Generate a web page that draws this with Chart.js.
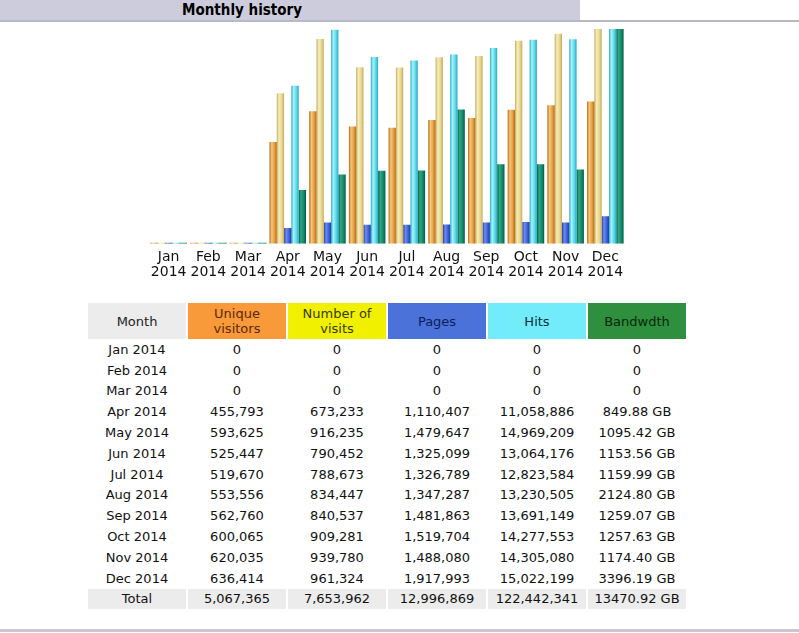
<!DOCTYPE html>
<html>
<head>
<meta charset="utf-8">
<script src="https://cdn.jsdelivr.net/npm/chart.js@4.4.1/dist/chart.umd.min.js"></script>
<style>
  body { margin: 0; width: 799px; height: 633px; background: #fff; position: relative; overflow: hidden; font-family: "DejaVu Sans", Verdana, sans-serif; }
  #titleBar { position: absolute; left: 0; top: 0; width: 580px; height: 20px; background: #ccccdc; }
  #titleBar span { position: absolute; left: 0; width: 484px; text-align: center; top: 1px; font: bold 15px "DejaVu Sans Condensed", "DejaVu Sans", sans-serif; color: #000; }
  #topLine { position: absolute; left: 0; top: 20px; width: 799px; height: 2px; background: #b8b8c8; }
  #bottomLine { position: absolute; left: 0; top: 629px; width: 799px; height: 3px; background: #c8c8d8; }
  #chartBox { position: absolute; left: 145px; top: 22px; width: 484px; height: 264px; }
  #history { position: absolute; left: 86px; top: 303px; border-collapse: separate; border-spacing: 2px 0; font-size: 13px; color: #111; }
  #history td, #history th { width: 98px; text-align: center; padding: 0; height: 20.8px; font-weight: normal; }
  #history th { height: 36px; line-height: 15px; }
  .hMonth { background: #ececec; color: #222; }
  .hU { background: #f8993a; color: #5a2a00; }
  .hV { background: #f0f000; color: #3a3a00; }
  .hP { background: #4a72d8; color: #0c1e5a; }
  .hH { background: #72ecfa; color: #0c3040; }
  .hK { background: #2e8f3f; color: #082808; }
  #history tr.total td { background: #ececec; }
</style>
</head>
<body>
<div id="titleBar"><span>Monthly history</span></div>
<div id="topLine"></div>
<div id="chartBox"><canvas id="monthChart"></canvas></div>
<table id="history">
  <thead>
    <tr>
      <th class="hMonth">Month</th>
      <th class="hU">Unique<br>visitors</th>
      <th class="hV">Number of<br>visits</th>
      <th class="hP">Pages</th>
      <th class="hH">Hits</th>
      <th class="hK">Bandwdth</th>
    </tr>
  </thead>
  <tbody></tbody>
</table>
<div id="bottomLine"></div>

<script>
const months = ["Jan", "Feb", "Mar", "Apr", "May", "Jun", "Jul", "Aug", "Sep", "Oct", "Nov", "Dec"];
const year = "2014";
const visitors = [0, 0, 0, 455793, 593625, 525447, 519670, 553556, 562760, 600065, 620035, 636414];
const visits = [0, 0, 0, 673233, 916235, 790452, 788673, 834447, 840537, 909281, 939780, 961324];
const pages = [0, 0, 0, 1110407, 1479647, 1325099, 1326789, 1347287, 1481863, 1519704, 1488080, 1917993];
const hits = [0, 0, 0, 11058886, 14969209, 13064176, 12823584, 13230505, 13691149, 14277553, 14305080, 15022199];
const bandwidthGB = [0, 0, 0, 849.88, 1095.42, 1153.56, 1159.99, 2124.80, 1259.07, 1257.63, 1174.40, 3396.19];
const totals = ["5,067,365", "7,653,962", "12,996,869", "122,442,341", "13470.92 GB"];

const CAT_PCT = 0.92;

// horizontal gradient per bar to mimic the awstats bar images
function barFill(base, light, dark) {
  return (ctx) => {
    const chart = ctx.chart;
    const xs = chart.scales && chart.scales.x;
    if (!xs || ctx.dataIndex === undefined || !chart.chartArea) return base;
    const cw = xs.width / months.length;
    const bw = cw * CAT_PCT / 5;
    const left = xs.getPixelForValue(ctx.dataIndex) - cw * CAT_PCT / 2 + ctx.datasetIndex * bw;
    const g = chart.ctx.createLinearGradient(left, 0, left + bw, 0);
    g.addColorStop(0, dark);
    g.addColorStop(0.3, light);
    g.addColorStop(0.7, base);
    g.addColorStop(1, dark);
    return g;
  };
}

const maxVisits = Math.max(...visits);
const maxHits = Math.max(...hits);
const maxBw = Math.max(...bandwidthGB);

const ctx = document.getElementById("monthChart").getContext("2d");
new Chart(ctx, {
  type: "bar",
  data: {
    labels: months.map(m => [m, year]),
    datasets: [
      { label: "Unique visitors", data: visitors, yAxisID: "yv", backgroundColor: barFill("#e39b3e", "#f6c77a", "#b46a18") },
      { label: "Number of visits", data: visits, yAxisID: "yv", backgroundColor: barFill("#e6d68c", "#f7edba", "#c4aa5c") },
      { label: "Pages", data: pages, yAxisID: "yh", backgroundColor: barFill("#3c5fd8", "#6d8cf2", "#1e3a9e") },
      { label: "Hits", data: hits, yAxisID: "yh", backgroundColor: barFill("#58d8ea", "#a6f4fb", "#2aa8c0") },
      { label: "Bandwidth", data: bandwidthGB, yAxisID: "yk", backgroundColor: barFill("#10896a", "#35a585", "#005e42") }
    ]
  },
  options: {
    responsive: true,
    maintainAspectRatio: false,
    animation: false,
    layout: { padding: { top: 7, left: 0, right: 0, bottom: 0 } },
    datasets: { bar: { categoryPercentage: CAT_PCT, barPercentage: 1.0, minBarLength: 1, borderWidth: 0 } },
    plugins: { legend: { display: false }, tooltip: { enabled: false } },
    scales: {
      x: {
        grid: { display: false, drawTicks: false },
        border: { display: false },
        ticks: { color: "#111", padding: 6, maxRotation: 0, autoSkip: false, font: { family: "DejaVu Sans", size: 14, lineHeight: 1.08 } }
      },
      yv: { display: false, min: 0, max: maxVisits },
      yh: { display: false, min: 0, max: maxHits },
      yk: { display: false, min: 0, max: maxBw }
    }
  }
});

// table below the chart
function fmt(n) { return n.toLocaleString("en-US"); }
const tbody = document.querySelector("#history tbody");
months.forEach((m, i) => {
  const tr = document.createElement("tr");
  const cells = [
    m + " " + year,
    fmt(visitors[i]),
    fmt(visits[i]),
    fmt(pages[i]),
    fmt(hits[i]),
    bandwidthGB[i] ? bandwidthGB[i].toFixed(2) + " GB" : "0"
  ];
  cells.forEach(c => {
    const td = document.createElement("td");
    td.textContent = c;
    tr.appendChild(td);
  });
  tbody.appendChild(tr);
});
const trTotal = document.createElement("tr");
trTotal.className = "total";
["Total", ...totals].forEach(c => {
  const td = document.createElement("td");
  td.textContent = c;
  trTotal.appendChild(td);
});
tbody.appendChild(trTotal);
</script>
</body>
</html>
